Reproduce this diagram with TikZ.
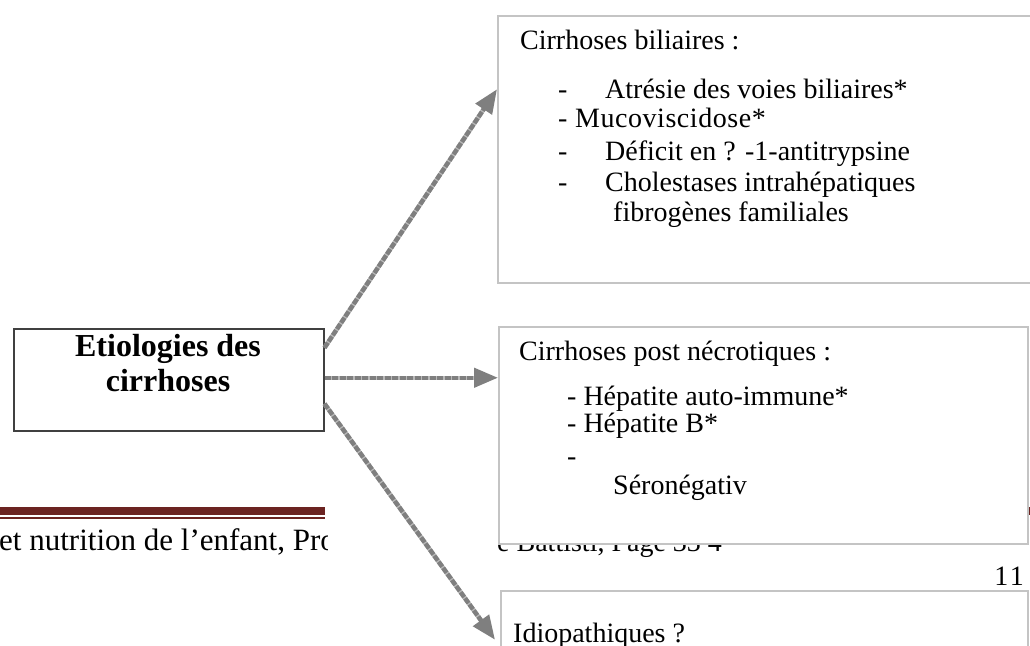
\documentclass[tikz,border=0pt]{standalone}
\usepackage{fontspec}
\setmainfont{Liberation Serif}
\newfontfamily\trackfont[LetterSpace=2]{Liberation Serif}
\newfontfamily\widefont[LetterSpace=9]{Liberation Serif}
\usetikzlibrary{arrows.meta,positioning,calc}
\definecolor{arrowgray}{HTML}{7F7F7F}
\definecolor{boxgray}{HTML}{C4C4C4}
\definecolor{footred}{HTML}{6B2321}
\begin{document}
\begin{tikzpicture}[x=1pt, y=-1pt,
  catbox/.style={draw=boxgray, line width=1.5pt, fill=white, inner sep=0pt, anchor=north west},
  entry/.style={anchor=base west, inner sep=0pt, font=\fontsize{28}{30}\selectfont},
  link/.style={arrowgray, line width=4.5pt, dash pattern=on 6pt off 1.5pt,
    preaction={draw, arrowgray!55, line width=4.5pt, solid, -, shorten >=16pt},
    -{Triangle[length=24pt, width=19pt]}}]
  \useasboundingbox (0,0) rectangle (1030,645);
  % page footer seen underneath
  \begin{scope}
    \clip (0,490) rectangle (327,570);
    \fill[footred] (0,507) rectangle (325,515);
    \fill[footred] (0,517) rectangle (325,518.5);
    \node[entry, font=\fontsize{31}{33}\selectfont] (footl) at (-1,550) {et nutrition de l’enfant, Pro};
  \end{scope}
  \fill[footred] (1026,507) rectangle (1030,515);
  \node[entry] (footr) at (497,551) {e Battisti, Page 33 4};
  \node[entry, anchor=base east, font=\widefont\fontsize{28}{30}\selectfont] (pagenum) at (1024,585) {11};

  \node[draw=black!75, line width=1.5pt, fill=white, inner sep=0pt, anchor=north west,
    minimum width=310pt, minimum height=102pt] (main) at (13,328) {};
  \node[anchor=base, align=center, inner sep=0pt, font=\bfseries\fontsize{32}{35}\selectfont] (maintxt) at (168,391) {Etiologies des\\cirrhoses};

  \node[catbox, minimum width=560pt, minimum height=267pt] (biliaire) at (497,15) {};
  \node[entry] (b0) at (520,49) {Cirrhoses biliaires :};
  \node[entry] (b1d) at (558,98) {-};
  \node[entry] (b1) at (605,98) {Atrésie des voies biliaires*};
  \node[entry, font=\trackfont\fontsize{28}{30}\selectfont] (b2) at (558,127) {- Mucoviscidose*};
  \node[entry] (b3d) at (558,160) {-};
  \node[entry] (b3) at (605,160) {Déficit en ? -1-antitrypsine};
  \node[entry] (b4d) at (558,191) {-};
  \node[entry] (b4) at (605,191) {Cholestases intrahépatiques};
  \node[entry] (b5) at (613,221) {fibrogènes familiales};

  \node[catbox, minimum width=529pt, minimum height=217pt] (necro) at (498,326) {};
  \node[entry] (n0) at (519,360) {Cirrhoses post nécrotiques :};
  \node[entry] (n1) at (567,405) {- Hépatite auto-immune*};
  \node[entry] (n2) at (567,432) {- Hépatite B*};
  \node[entry] (n3) at (567,465) {-};
  \node[entry] (n4) at (613,494) {Séronégativ};

  \node[catbox, minimum width=527pt, minimum height=80pt] (idio) at (500,590) {};
  \node[entry] (i0) at (513,642) {Idiopathiques ?};

  \draw[link] ([yshift=32pt]main.east) -- ([yshift=60pt]biliaire.west);
  \draw[link] ([yshift=2pt]main.east) -- ([yshift=57.5pt]necro.west);
  \draw[link] ([yshift=-24pt]main.east) -- ([xshift=-5pt, yshift=-9pt]idio.west);
\end{tikzpicture}
\end{document}
